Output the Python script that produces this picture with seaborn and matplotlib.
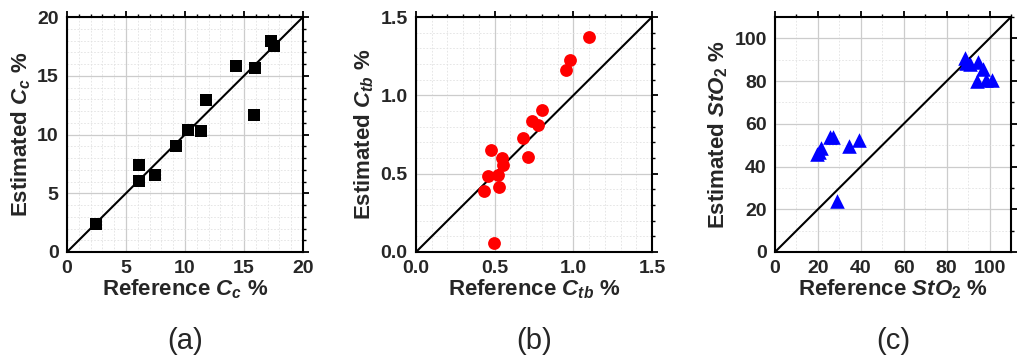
import matplotlib
matplotlib.use("Agg")
import matplotlib.pyplot as plt
from matplotlib.ticker import MultipleLocator
import seaborn as sns
import pandas as pd

# panel (a): C_c
cc_ref = [2.46, 6.14, 6.14, 7.47, 9.25, 10.24, 11.37, 11.8, 14.3, 15.9, 15.84, 17.3, 17.5]
cc_est = [2.38, 7.38, 6.01, 6.52, 8.99, 10.35, 10.27, 12.96, 15.8, 15.66, 11.66, 18.0, 17.5]

# panel (b): C_tb
ctb_ref = [0.435, 0.46, 0.475, 0.496, 0.52, 0.526, 0.545, 0.556, 0.683, 0.709,
           0.736, 0.774, 0.80, 0.955, 0.98, 1.10]
ctb_est = [0.39, 0.487, 0.649, 0.057, 0.489, 0.417, 0.598, 0.557, 0.73, 0.604,
           0.834, 0.81, 0.904, 1.16, 1.226, 1.372]

# panel (c): StO2
sto2_ref = [19.5, 20.5, 21.5, 25.5, 27.2, 28.8, 34.6, 39.0,
            88.5, 89.0, 91.0, 94.5, 97.0, 94.0, 98.5, 101.0]
sto2_est = [46.0, 47.0, 48.5, 53.8, 53.8, 24.0, 49.8, 52.6,
            91.0, 88.5, 88.0, 89.0, 85.5, 80.0, 80.5, 80.5]

sns.set_theme(style="white")
plt.rcParams['font.family'] = ['Liberation Sans', 'DejaVu Sans']
plt.rcParams['mathtext.fontset'] = 'custom'
plt.rcParams['mathtext.it'] = 'Liberation Sans:italic:bold'
plt.rcParams['mathtext.rm'] = 'Liberation Sans:bold'
plt.rcParams['mathtext.bf'] = 'Liberation Sans:bold'

fig = plt.figure(figsize=(10.24, 3.61), dpi=100)
W, H = 1024, 361
lefts = [67, 416, 775]
axes = [fig.add_axes([l / W, 1 - 252 / H, 236 / W, 235 / H]) for l in lefts]

panels = [
    dict(x=cc_ref, y=cc_est, marker="s", color="black", lim=20, major=5, minor=1, s=85,
         xl=r"Reference $C_c$ %", yl=r"Estimated $C_c$ %", tag="(a)"),
    dict(x=ctb_ref, y=ctb_est, marker="o", color="red", lim=1.5, major=0.5, minor=0.1, s=85,
         xl=r"Reference $C_{tb}$ %", yl=r"Estimated $C_{tb}$ %", tag="(b)"),
    dict(x=sto2_ref, y=sto2_est, marker="^", color="blue", lim=110, major=20, minor=10, s=110,
         xl=r"Reference $StO_\mathrm{2}$ %", yl=r"Estimated $StO_\mathrm{2}$ %", tag="(c)"),
]

for ax, p in zip(axes, panels):
    df = pd.DataFrame({"ref": p["x"], "est": p["y"]})
    ax.plot([0, p["lim"]], [0, p["lim"]], color="black", lw=1.5, zorder=2)
    sns.scatterplot(data=df, x="ref", y="est", marker=p["marker"], color=p["color"],
                    s=p["s"], edgecolor=p["color"], linewidth=0, ax=ax, zorder=3)
    ax.set_xlim(0, p["lim"])
    ax.set_ylim(0, p["lim"])
    for a in (ax.xaxis, ax.yaxis):
        a.set_major_locator(MultipleLocator(p["major"]))
        a.set_minor_locator(MultipleLocator(p["minor"]))
    ax.grid(True, which="major", color="#cccccc", lw=0.9)
    ax.grid(True, which="minor", color="#e2e2e2", lw=0.6, ls=(0, (2, 2)))
    ax.set_axisbelow(True)
    ax.tick_params(which="both", direction="out", top=True, right=True,
                   labeltop=False, labelright=False, color="black")
    ax.tick_params(which="major", length=4, width=1.3, labelsize=14, pad=2)
    ax.tick_params(which="minor", length=2, width=1.0)
    for sp in ax.spines.values():
        sp.set_color("black")
        sp.set_linewidth(1.5)
    for lab in ax.get_xticklabels() + ax.get_yticklabels():
        lab.set_fontweight("bold")
    ax.set_xlabel(p["xl"], fontsize=16, fontweight="bold", labelpad=0)
    ax.set_ylabel(p["yl"], fontsize=16, fontweight="bold", labelpad=3)
    ax.text(0.5, -0.38, p["tag"], transform=ax.transAxes, ha="center", va="center",
            fontsize=21)

fig.savefig("out.png", dpi=100)
